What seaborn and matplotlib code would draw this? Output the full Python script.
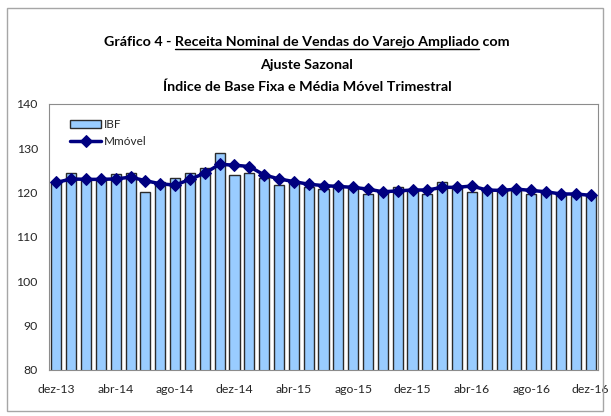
import matplotlib
matplotlib.use("Agg")
import matplotlib.pyplot as plt
import seaborn as sns
import pandas as pd
from matplotlib.patches import Rectangle
from matplotlib.lines import Line2D

months = ["dez-13", "jan-14", "fev-14", "mar-14", "abr-14", "mai-14", "jun-14", "jul-14",
          "ago-14", "set-14", "out-14", "nov-14", "dez-14", "jan-15", "fev-15", "mar-15",
          "abr-15", "mai-15", "jun-15", "jul-15", "ago-15", "set-15", "out-15", "nov-15",
          "dez-15", "jan-16", "fev-16", "mar-16", "abr-16", "mai-16", "jun-16", "jul-16",
          "ago-16", "set-16", "out-16", "nov-16", "dez-16"]
ibf = [122.5, 124.4, 123.0, 122.9, 124.1, 124.4, 120.2, 122.3, 123.2,
       124.4, 125.5, 129.0, 123.9, 124.5, 123.4, 121.7, 122.5, 121.2,
       120.8, 121.7, 121.0, 119.7, 120.2, 121.2, 120.6, 119.7, 122.5,
       121.4, 120.2, 120.6, 120.5, 120.8, 119.7, 120.2, 119.5, 119.3, 119.3]
mmovel = [122.3, 123.1, 123.0, 123.0, 123.1, 123.5, 122.7, 122.0, 121.7,
          123.0, 124.4, 126.4, 126.2, 125.9, 124.0, 123.1, 122.5, 121.9,
          121.6, 121.4, 121.2, 120.8, 120.2, 120.4, 120.6, 120.6, 121.2,
          121.2, 121.5, 120.6, 120.5, 120.8, 120.5, 120.2, 119.7, 119.7, 119.4]
yticks = [80, 90, 100, 110, 120, 130, 140]
tick_step = 4

sns.set_theme(style="white")
plt.rcParams['font.family'] = ['Lato', 'DejaVu Sans']

W, H = 611, 416
fig = plt.figure(figsize=(W / 100, H / 100), dpi=100)
ax = fig.add_axes([49 / W, 46 / H, 549 / W, 266 / H])

df = pd.DataFrame({"pos": list(range(len(months))), "mes": months,
                   "IBF": ibf, "Mmóvel": mmovel})

sns.barplot(data=df, x="pos", y="IBF", color="#99CCFF", saturation=1,
            edgecolor="#2b2b2b", linewidth=1.0, width=0.68, ax=ax, label="IBF")
sns.lineplot(data=df, x="pos", y="Mmóvel", color="#000080", marker="D",
             markersize=6.5, markeredgecolor="#000080", linewidth=2.5, ax=ax,
             label="Mmóvel")

ax.set_xlim(-0.5, len(months) - 0.5)
ax.set_ylim(80, 140)
ax.set_yticks(yticks)
ax.set_yticklabels([str(v) for v in yticks], fontsize=8.8)
pos_ticks = list(range(0, len(months), tick_step))
ax.set_xticks(pos_ticks)
ax.set_xticklabels([months[i] for i in pos_ticks], fontsize=8.8)
ax.tick_params(axis="both", length=0)
ax.tick_params(axis="y", pad=8)
ax.tick_params(axis="x", pad=10)
ax.set_xlabel("")
ax.set_ylabel("")
for s in ax.spines.values():
    s.set_color("#8c8c8c")
    s.set_linewidth(0.8)
ax.grid(False)

handles, labels = ax.get_legend_handles_labels()
order = [labels.index("IBF"), labels.index("Mmóvel")]
ax.legend([handles[i] for i in order], [labels[i] for i in order],
          loc="upper left", bbox_to_anchor=(0.03, 0.96), frameon=False,
          fontsize=8.5, handlelength=2.6, handletextpad=0.25,
          labelspacing=0.45, borderaxespad=0)

# Title
r = fig.canvas.get_renderer()
kw = dict(fontsize=10.3, fontweight="bold", color="black")
line1 = "Gráfico 4 - Receita Nominal de Vendas do Varejo Ampliado com"
cx = 307 / W
t1 = fig.text(cx, 1 - 46 / H, line1, ha="center", va="baseline", **kw)
fig.text(cx, 1 - 69 / H, "Ajuste Sazonal", ha="center", va="baseline", **kw)
fig.text(cx, 1 - 91 / H, "Índice de Base Fixa e Média Móvel Trimestral",
         ha="center", va="baseline", **kw)


def width_of(s):
    t = fig.text(0, 0, s, **kw)
    w = t.get_window_extent(r).width
    t.remove()
    return w


bb = t1.get_window_extent(r)
x0 = bb.x0 + width_of("Gráfico 4 - R") - width_of("R")
x1 = bb.x0 + width_of("Gráfico 4 - Receita Nominal de Vendas do Varejo Ampliado")
yb = (H - 46 - 2.5)
fig.add_artist(Line2D([x0 / W, x1 / W], [yb / H, yb / H], transform=fig.transFigure,
                      color="black", linewidth=1.0))

# chart area border
fig.add_artist(Rectangle((7 / W, 1 - 411 / H), (603 - 7) / W, (411 - 8) / H,
                         transform=fig.transFigure, fill=False,
                         edgecolor="#a6a6a6", linewidth=1.0))

fig.savefig("out.png", dpi=100)
